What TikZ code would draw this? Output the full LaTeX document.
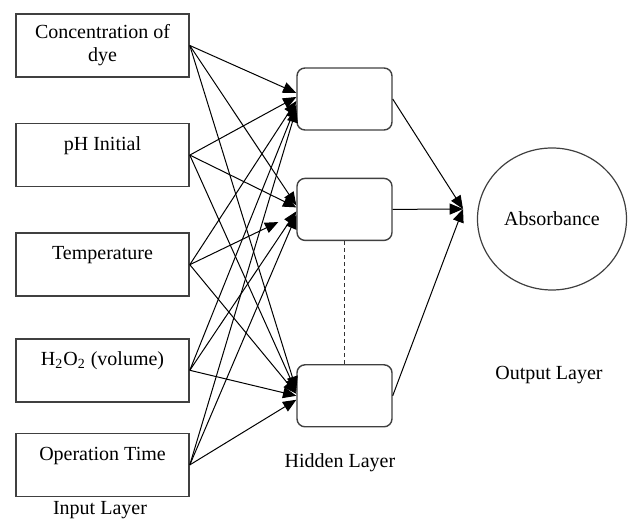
\documentclass[tikz,border=0pt]{standalone}
\usepackage{fontspec}
\setmainfont{Liberation Serif}
\usetikzlibrary{shapes,arrows}
\usetikzlibrary{positioning}
\tikzstyle{inbox} = [rectangle, draw=black!75, line width=0.8pt,
    minimum width=86.5pt, minimum height=31.5pt, align=center,
    inner sep=0pt, font=\fontsize{10}{11.5}\selectfont]
\tikzstyle{hidbox} = [rectangle, draw=black!75, line width=0.7pt,
    rounded corners=4pt, minimum width=47.5pt, minimum height=31pt]
\tikzstyle{outcloud} = [draw=black!75, ellipse, line width=0.6pt,
    minimum width=74.5pt, minimum height=71pt, inner sep=0pt,
    font=\fontsize{10}{12}\selectfont]
\tikzstyle{line} = [draw, line width=0.5pt, -triangle 45]
\tikzstyle{caption} = [font=\fontsize{10}{12}\selectfont]

\begin{document}
\begin{tikzpicture}
  \useasboundingbox (0,0) rectangle (314pt,-261pt);
  % Place nodes
  \node [inbox] (in1) at (51.25pt,-22.75pt) {Concentration of\\dye};
  \node [inbox, below=22.5pt of in1] (in2) {pH Initial\\\mbox{}};
  \node [inbox, below=22.5pt of in2] (in3) {Temperature\\\mbox{}};
  \node [inbox, below=20.5pt of in3] (in4) {H\textsubscript{2}O\textsubscript{2} (volume)\\\mbox{}};
  \node [inbox, below=15pt of in4] (in5) {Operation Time\\\mbox{}};

  \node [hidbox] (hida) at (172.25pt,-49.5pt) {};
  \node [hidbox, below=23.5pt of hida] (hidb) {};
  \node [hidbox, below=61.5pt of hidb] (hidc) {};

  \node [outcloud] (out) at (276pt,-109.5pt) {Absorbance};
  \coordinate (outin) at (231.5pt,-104.5pt);

  \node [caption] (inlabel) at (50pt,-255pt) {Input Layer};
  \node [caption] (hidlabel) at (170pt,-231.5pt) {Hidden Layer};
  \node [caption] (outlabel) at (274.5pt,-187.5pt) {Output Layer};

  %paths
  \path [line] (in1.east) -- ([yshift=3pt]hida.west);
  \path [line] (in1.east) -- ([yshift=2pt]hidb.west);
  \path [line] (in1.east) -- ([yshift=3pt]hidc.west);
  \path [line] (in2.east) -- ([yshift=1pt]hida.west);
  \path [line] (in2.east) -- ([yshift=1pt]hidb.west);
  \path [line] (in2.east) -- ([yshift=2pt]hidc.west);
  \path [line] (in3.east) -- ([yshift=-1pt]hida.west);
  \path [line, shorten >=10pt] (in3.east) -- ([yshift=-2pt]hidb.west);
  \path [line] (in3.east) -- ([yshift=1pt]hidc.west);
  \path [line] (in4.east) -- ([yshift=-3pt]hida.west);
  \path [line] (in4.east) -- ([yshift=-1pt]hidb.west);
  \path [line] (in4.east) -- (hidc.west);
  \path [line] (in5.east) -- ([yshift=-5pt]hida.west);
  \path [line] (in5.east) -- ([yshift=-3pt]hidb.west);
  \path [line] (in5.east) -- ([yshift=-2pt]hidc.west);

  \path [line] (hida.east) -- (outin);
  \path [line] (hidb.east) -- (outin);
  \path [line] (hidc.east) -- (outin);
  \draw [black!80, line width=0.8pt, dash pattern=on 2pt off 1.5pt]
    (hidb.south) -- (hidc.north);
\end{tikzpicture}
\end{document}
